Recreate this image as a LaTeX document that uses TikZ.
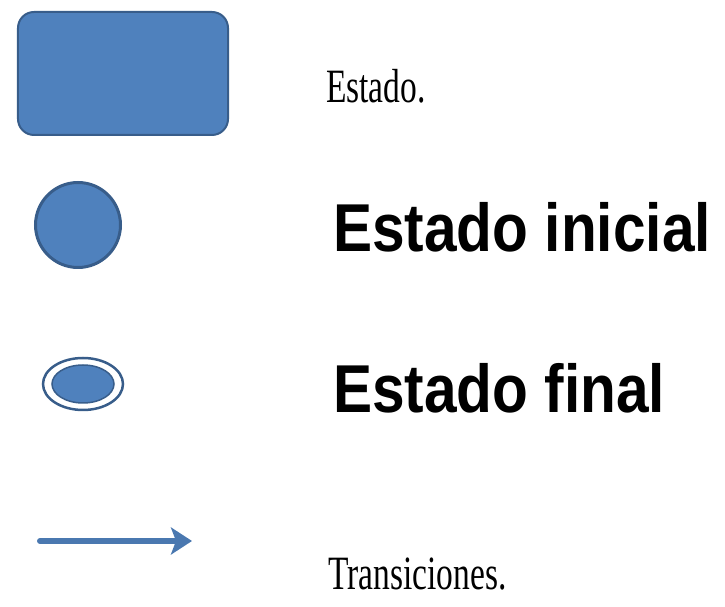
\documentclass[tikz,border=0pt]{standalone}
\usepackage{fontspec}
\setmainfont{Liberation Serif}
\setsansfont{Liberation Sans}
\usepackage{tikz}
\usetikzlibrary{positioning,shapes.geometric,arrows.meta}
\definecolor{stfill} {HTML}{4F81BD}
\definecolor{stdraw} {HTML}{385D8A}
\definecolor{trans}  {HTML}{4A78B0}
\tikzset{
  % --- nodes
  st/.style     = {rectangle, rounded corners=16bp, draw=stdraw, fill=stfill,
                   line width=2bp, minimum width=210bp, minimum height=123bp},
  ini/.style    = {circle, draw=stdraw, fill=stfill, line width=3bp,
                   minimum size=85bp, inner sep=0pt},
  fin/.style    = {ellipse, draw=stdraw, fill=stfill, line width=1.5bp,
                   minimum width=62bp, minimum height=38bp, inner sep=0pt},
  finring/.style= {ellipse, draw=stdraw, line width=2.5bp,
                   minimum width=80bp, minimum height=52bp, inner sep=0pt},
  plain/.style  = {anchor=base west, inner sep=0pt, font=\fontsize{48}{50}\selectfont,
                   xscale=0.7},
  big/.style    = {anchor=base west, inner sep=0pt,
                   font=\sffamily\bfseries\fontsize{68}{70}\selectfont, xscale=0.865},
  % --- edges
  tr/.style     = {-{Stealth[length=21bp,width=27bp,inset=5bp]}, draw=trans,
                   line width=6bp, line cap=round},
}
\begin{document}
\begin{tikzpicture}[x=1bp,y=1bp]
  \useasboundingbox (0,0) rectangle (725,607);

  % symbols
  \node[st] (estado) at (123,533.5) {};
  \node[ini] (inicial) at (78,382) {};
  \node[finring] (finalring) at (83,223) {};
  \node[fin] (final) at (finalring.center) {};
  \coordinate (tfrom) at (40,66);
  \coordinate (tto) at (192,66);
  \draw[tr] (tfrom) -- (tto);

  % labels
  \node[plain] (lestado) at (326,504) {Estado.};
  \node[big] (linicial) at (333,355) {Estado inicial};
  \node[big] (lfinal) at (333,194) {Estado final};
  \node[plain] (ltrans) at (328,17) {Transiciones.};
\end{tikzpicture}
\end{document}
